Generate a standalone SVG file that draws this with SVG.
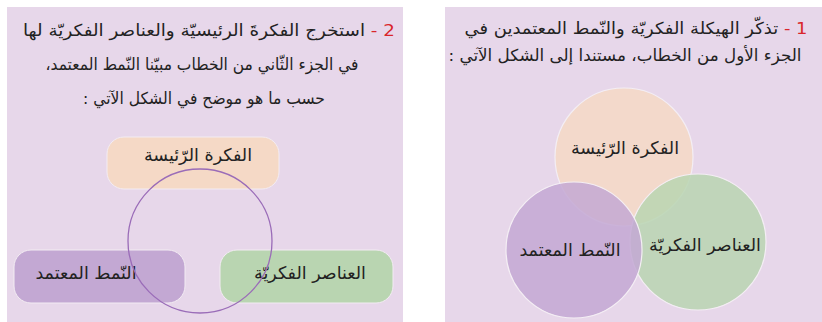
<svg xmlns="http://www.w3.org/2000/svg" width="822" height="322" viewBox="0 0 822 322">
<style>
.panel{fill:#E7D7EA}
.t{font-family:"DejaVu Sans","Noto Sans",sans-serif;font-size:16.5px;fill:#222}
.lbl{font-family:"DejaVu Sans","Noto Sans",sans-serif;font-size:17.5px;fill:#222;text-anchor:middle}
.num{fill:#D9262B}
.peach{fill:#F5D9C6}
.green{fill:#B9D5B1}
.purp{fill:#C3A8D3}
.vc{stroke:#F4EEF4;stroke-width:1.2;fill-opacity:0.85}
.outline{fill:none;stroke:#9A6CB8;stroke-width:1.3}
</style>
<rect class="panel" x="7" y="7" width="396" height="315"/>
<rect class="panel" x="445" y="7" width="377" height="315"/>

<g id="left-title">
<text class="t" x="209" y="36" direction="rtl" text-anchor="middle" textLength="372" lengthAdjust="spacingAndGlyphs"><tspan class="num">2 - </tspan>استخرج الفكرةَ الرئيسيّة والعناصر الفكريّة لها</text>
<text class="t" x="202" y="70" direction="rtl" text-anchor="middle" textLength="313" lengthAdjust="spacingAndGlyphs">في الجزء الثّاني من الخطاب مبيّنا النّمط المعتمد،</text>
<text class="t" x="204" y="104" direction="rtl" text-anchor="middle" textLength="242" lengthAdjust="spacingAndGlyphs">حسب ما هو موضح في الشكل الآتي :</text>
</g>

<g id="left-main-idea">
<rect class="peach" x="107" y="137" width="172" height="52" rx="17" stroke="#F3ECF3" stroke-width="1"/>
<text class="lbl" x="198" y="161" direction="rtl">الفكرة الرّئيسة</text>
</g>
<g id="left-pattern">
<rect class="purp" x="14" y="250" width="171" height="53" rx="17" stroke="#F3ECF3" stroke-width="1"/>
<text class="lbl" x="86" y="279" direction="rtl">النّمط المعتمد</text>
</g>
<g id="left-elements">
<rect class="green" x="220" y="250" width="173" height="53" rx="17" stroke="#F3ECF3" stroke-width="1"/>
<text class="lbl" x="310" y="279" direction="rtl">العناصر الفكريّة</text>
</g>
<g id="connectors">
<circle class="outline" cx="200" cy="241" r="72"/>
</g>

<g id="right-title">
<text class="t" x="636" y="34" direction="rtl" text-anchor="middle" textLength="343" lengthAdjust="spacingAndGlyphs"><tspan class="num">1 - </tspan>تذكّر الهيكلة الفكريّة والنّمط المعتمدين في</text>
<text class="t" x="625" y="61" direction="rtl" text-anchor="middle" textLength="353" lengthAdjust="spacingAndGlyphs">الجزء الأول من الخطاب، مستندا إلى الشكل الآتي :</text>
</g>

<g id="right-main-idea">
<circle class="peach vc" cx="624" cy="157" r="69"/>
</g>
<g id="right-elements">
<circle class="green vc" cx="698" cy="242" r="68"/>
</g>
<g id="right-pattern">
<circle class="purp vc" cx="574" cy="250" r="68"/>
</g>
<g id="right-labels">
<text class="lbl" x="625" y="154" direction="rtl">الفكرة الرّئيسة</text>
<text class="lbl" x="705" y="251" direction="rtl">العناصر الفكريّة</text>
<text class="lbl" x="570" y="256" direction="rtl">النّمط المعتمد</text>
</g>
</svg>
